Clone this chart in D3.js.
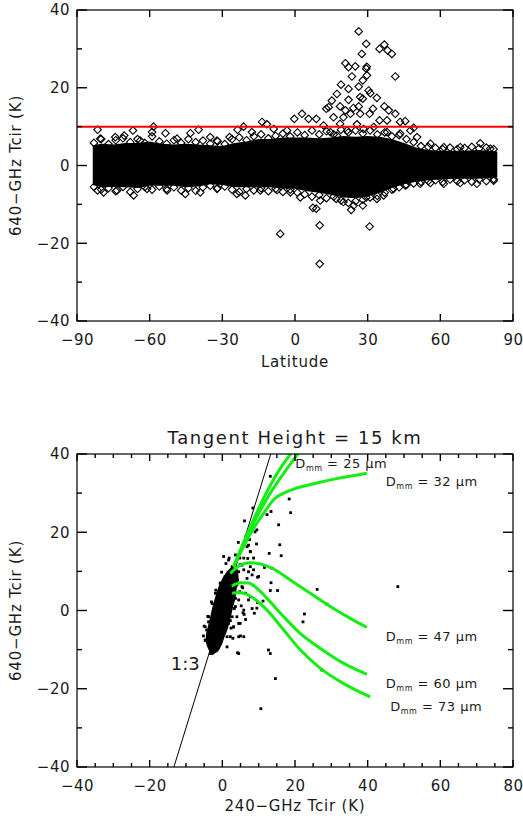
<!DOCTYPE html>
<html lang="en">
<head>
<meta charset="UTF-8">
<title>640-GHz vs 240-GHz Tcir</title>
<style>
  body { margin: 0; background: #fff; }
  svg text { font-family: "DejaVu Sans", sans-serif; fill: #1a1a1a; }
  .tick text { font-size: 15px; letter-spacing: 0.5px; }
</style>
</head>
<body>
<svg id="chart" width="523" height="819"></svg>
<script src="https://cdn.jsdelivr.net/npm/d3@7"></script>
<script>
// ---------- top panel data ----------
var latTicks = [-90, -60, -30, 0, 30, 60, 90];
var tcirTicks = [-40, -20, 0, 20, 40];
var tcirMinor = [-30, -10, 10, 30];
var threshold = 10;

// envelope of the solid black band (latitude, upper, lower)
var bandLat = [-83.5, -80, -75, -70, -65, -60, -55, -50, -45, -40, -35, -30, -25, -20, -15, -10, -5, 0, 5, 10, 15, 20, 25, 30, 35, 40, 45, 50, 55, 60, 65, 70, 75, 80, 83.5];
var bandTop = [5.2, 5.6, 5.4, 5.8, 5.8, 6.2, 5.6, 5.4, 5.6, 5.4, 5.2, 5.0, 5.8, 6.2, 6.8, 6.8, 7.2, 7.2, 7.2, 7.0, 7.2, 7.6, 7.4, 7.6, 7.4, 6.8, 5.8, 4.6, 4.0, 3.8, 3.8, 3.8, 4.0, 3.8, 3.6];
var bandBottom = [-5.0, -5.6, -5.5, -5.6, -5.8, -5.2, -5.2, -5.2, -5.6, -5.4, -4.8, -5.0, -5.6, -5.6, -5.6, -5.6, -6.0, -6.0, -6.6, -7.0, -7.6, -8.2, -8.4, -8.0, -7.0, -5.8, -4.8, -4.2, -3.8, -3.6, -3.4, -3.4, -3.4, -3.2, -3.0];

// diamonds along the ragged edges of the band
var edgeLat = [-83, -80, -77, -74, -71, -68, -65, -62, -59, -56, -53, -50, -47, -44, -41, -38, -35, -32, -29, -26, -23, -20, -17, -14, -11, -8, -5, -2, 1, 4, 7, 10, 13, 16, 19, 22, 25, 28, 31, 34, 37, 40, 43, 46, 49, 52, 55, 58, 61, 64, 67, 70, 73, 76, 79, 82];
var edgeUpper = [5.8, 6.8, 5.5, 6.5, 7.0, 6.0, 6.8, 5.8, 7.5, 6.2, 5.6, 6.5, 5.8, 6.8, 6.0, 6.4, 5.6, 6.2, 5.5, 6.8, 7.2, 6.5, 7.5, 8.0, 7.0, 7.6, 8.2, 7.5, 8.5, 7.8, 9.0, 8.0, 8.8, 8.0, 9.2, 8.5, 9.0, 8.2, 9.0, 8.0, 8.5, 7.5, 7.8, 6.8, 6.0, 5.0, 4.8, 4.5, 4.2, 4.6, 4.2, 4.5, 4.8, 4.4, 4.6, 4.2];
var edgeLower = [-5.5, -6.2, -5.8, -6.6, -5.5, -6.8, -6.0, -5.5, -6.2, -5.4, -6.0, -5.6, -6.4, -5.8, -6.5, -5.6, -5.2, -5.8, -5.4, -6.2, -6.8, -6.0, -6.4, -5.8, -6.6, -6.0, -6.8, -6.2, -7.0, -7.4, -8.0, -7.6, -8.4, -8.0, -9.0, -9.6, -9.2, -8.8, -8.2, -7.8, -7.0, -6.2, -5.6, -5.0, -4.6, -4.2, -4.0, -3.8, -4.2, -3.6, -4.0, -3.8, -4.2, -3.6, -4.0, -3.5];

// individual diamonds outside the band
var diamondLat = [
  -81.5, -80.4, -74.2, -70.5, -66.9, -63.9, -58.4, -59, -53.5, -48.7, -43.2, -39.8, -35, -32.2, -27, -23.7, -21.2, -17.8, -13.6, -11.6, -8.8, -3.3, -0.3, 2.9, 5.6, 8.8, 11.8, 15.9, 18.6, 34.9, 43.4, 45.5, 49, 50.4, 55.9, 61.4, 68.2, 76.5, 80.6,
  -81.5, -79, -73.5, -66.6, -61.1, -52.8, -45.3, -39.1, -32.2, -24, -20.5, -14.3, -7.4, -1.9, 2.2, 10.4, 17, 20, 24.2, 29.4, 33.8, 36.6, 40.7, 45.5, 51.7, 55.9, 61.4, 68.2, 75.1, 82,
  -6.1, 10.2, 10.2, 30.8, 7.4, 8.8, 23.2, 28,
  26.3, 29.4, 27.6, 34.9, 36.9, 38.2, 40, 41.4, 20.8, 22.1, 24.9, 29.4, 29.6, 23.5, 28, 29.7, 26.3, 19, 22.1, 17.3, 30.4, 31.1, 22.1, 26.9, 28, 33.8, 15.2, 13.9, 12.9, 18.6, 24.1, 32.2, 36.9, 38.7, 26.3, 22.9, 30.8, 41.4, 20.8,
  14.6, 17.3, 21.5, 25.6, 28.3, 32.5, 38, 43.4, 47.6, 20, 26.9, 38, 40
];
var diamondVal = [
  9.2, 6.9, 7.3, 7.7, 9.0, 6.4, 10.0, 8.6, 8.3, 6.9, 8.3, 9.2, 7.3, 6.4, 7.3, 9.2, 10.0, 8.6, 11.2, 10.6, 9.4, 9.0, 12.0, 13.3, 12.0, 12.0, 10.3, 12.4, 10.7, 11.6, 11.2, 11.4, 9.7, 7.3, 5.6, 4.7, 4.7, 5.7, 4.3,
  -6.4, -6.9, -6.4, -7.7, -6.0, -6.4, -7.3, -6.9, -6.0, -7.3, -7.7, -6.4, -6.3, -6.9, -8.2, -9.0, -8.6, -9.4, -10.3, -8.2, -8.6, -7.7, -6.0, -5.1, -4.7, -4.5, -4.7, -4.5, -4.7, -3.9,
  -17.6, -15.4, -25.3, -15.7, -10.9, -11.1, -11.4, -10.3,
  34.5, 31.3, 28.7, 30.0, 31.1, 29.6, 28.7, 22.9, 26.3, 25.3, 25.5, 24.9, 25.4, 22.9, 21.9, 23.2, 20.3, 20.8, 19.7, 18.4, 19.3, 18.6, 16.9, 17.6, 17.2, 17.4, 16.7, 15.0, 14.6, 15.2, 14.8, 14.6, 15.2, 14.2, 15.2, 13.3, 13.3, 13.3, 14.2,
  8.6, 7.7, 9.0, 10.6, 9.4, 9.9, 8.6, 8.2, 9.0, 12.4, 13.3, 11.6, 3.9
];

// ---------- bottom panel data ----------
var t240Ticks = [-40, -20, 0, 20, 40, 60, 80];
var t240Minor = [-35, -30, -25, -15, -10, -5, 5, 10, 15, 25, 30, 35, 45, 50, 55, 65, 70, 75];
var ratioSlope = 3;

// outline of the dense cluster near the origin
var clusterX = [4.3, 4.5, 4.0, 3.6, 3.0, 2.5, 2.0, 1.4, 0.6, 0.0, -0.6, -1.2, -2.4, -3.4, -4.2, -4.6, -4.5, -4.2, -3.7, -3.2, -2.7, -2.1, -1.5, -0.9, 0.0, 1.2, 2.6];
var clusterY = [10.5, 8.2, 6.0, 3.0, 1.0, -1.0, -3.0, -5.0, -6.8, -8.5, -9.6, -10.5, -11.2, -10.8, -9.2, -8.0, -6.0, -5.0, -3.0, -1.0, 1.0, 3.0, 4.8, 6.5, 8.2, 10.0, 11.2];

var dotX = [13.2, 18.4, 18.8, 13.4, 12.3, 8.4, 6.1, 9.5, 9.0, 15.5, 15.8, 16.2, 12.9, 4.4, 7.5, 7.2, 9.4, 7.7, 6.5, 7.0, 11.6, 10.0, 13.4,
  9.7, 13.7, 13.2, 15.2, 26.1, 28.8, 22.6, 22.2, 48.3, 11.2, 9.7, 8.2, 8.8, 5.7, 6.4, 4.5, 5.0, 3.1, 2.9, 4.2, 12.7, 13.2, 14.6, 27.4, 10.6,
  7.7, 5.9, 8.2, 6.8, 4.8, 6.3, 3.6, 7.2, 9.5, 3.6, 2.7, 1.7, 1.3, -0.1, -2.4, -2.8, -4.7, -3.8, 1.9, 4.5, 0.8, 1.6, 3.6, 4.8, 5.4, 4.0,
  -4.3, -3.2, 2.2, 3.3, 5.6, 6.0, 2.9, -1.2,
  6.8, 7.7, 5.9, 8.6, 4.9, 7.2, 8.6, 5.4, 6.3, 7.7, 4.5, 5.9, 4.0, 4.9, 3.1, 4.5, 5.9, 2.2, 1.3, -1.9, -3.3, -4.7, -4.7, -3.8, -2.8, -1.9, -0.6, 0.8, 1.7, 2.7, 3.6, 0.35, 4.5,
  -5.2, -5.0, -4.0, -3.0, -1.8, 5.2, 4.2, 2.4, 1.0, -0.2];
var dotY = [34.3, 28.5, 25.0, 25.3, 24.5, 26.2, 22.9, 20.6, 20.1, 21.9, 16.8, 14.0, 14.6, 17.4, 18.1, 16.7, 17.0, 15.0, 18.9, 13.3, 11.0, 8.7, 7.1,
  8.5, 10.8, 5.1, 5.1, 5.4, 1.6, -0.9, -2.9, 6.1, 2.4, 2.0, 0.5, -0.7, -0.6, -2.3, -3.3, -6.5, -4.2, -7.1, -10.8, -10.1, -11.0, -17.4, -15.2, -25.1,
  11.2, 10.4, 9.1, 8.2, 4.8, 4.4, 3.1, 2.7, 0.6, 1.0, -1.6, -3.3, -6.7, -5.9, -10.1, -11.0, -7.6, -2.9, 13.4, 9.9, 8.7, 7.0, 12.1, 13.4, 11.6, 6.5,
  -5.0, -8.8, -2.6, 0.5, 5.8, -1.0, 9.6, -9.6,
  16.3, 15.1, 13.4, 13.4, 11.7, 9.9, 10.4, 6.1, 4.4, 3.5, 2.7, 0.1, -1.6, -3.3, -4.2, -6.7, -6.7, -6.7, -9.3, -10.1, -11.0, -7.6, -4.2, -1.6, 1.8, 4.4, 7.0, 8.7, 12.9, 11.2, 14.2, 13.8, -11.0,
  -6.5, -4.0, -1.5, 2.2, 5.2, 1.2, 7.8, -4.5, 12.0, 9.8];

// model curves for particle size Dmm (x = 240-GHz Tcir, y = 640-GHz Tcir)
var curveD18 = [[3.1, 11.2], [5.4, 16.4], [8.6, 23.2], [12.3, 30.4], [16.0, 36.4], [19.2, 40.5]];
var curveD25 = [[3.1, 11.2], [5.9, 17.2], [9.5, 24.0], [13.2, 30.0], [16.9, 35.1], [21.2, 40.5]];
var curveD32 = [[3.1, 11.2], [5.9, 16.4], [8.6, 21.0], [11.4, 24.9], [14.1, 28.3], [17.8, 30.4], [20.5, 31.3], [26.0, 32.6], [32.5, 33.9], [39.8, 35.1]];
var curveD47 = [[2.2, 9.5], [5.0, 11.6], [7.7, 12.2], [10.5, 11.9], [14.1, 10.6], [18.7, 7.8], [24.2, 4.4], [30.6, 0.5], [35.2, -2.0], [39.8, -4.3]];
var curveD60 = [[2.6, 6.2], [4.95, 7.1], [7.2, 7.0], [9.5, 5.7], [12.3, 3.1], [16.9, -1.6], [21.5, -5.9], [27.0, -9.7], [33.4, -13.5], [39.8, -16.3]];
var curveD73 = [[2.7, 4.4], [4.5, 4.6], [6.8, 4.1], [9.5, 2.5], [12.3, 0.1], [16.9, -5.0], [21.5, -10.1], [27.0, -14.8], [33.4, -18.7], [40.7, -22.1]];

var dmmNames = ["25", "32", "47", "60", "73"];
var dmmLabelX = [20.1, 45.0, 45.0, 45.0, 46.2];
var dmmLabelY = [36.5, 31.7, -7.7, -19.7, -25.7];

// ---------- drawing ----------
var svg = d3.select("#chart");
var boxLeft = 77, boxRight = 513;

function diamond(r) {
  return "M0," + (-r) + "L" + r + ",0L0," + r + "L" + (-r) + ",0Z";
}

var fmt = function(d) { return d < 0 ? "\u2212" + Math.abs(d) : String(d); };

// frame + tick labels (left and bottom)
function drawFrame(g, x, y, xTicks, yTicks, yTop, yBottom) {
  g.append("g").attr("transform", "translate(0," + yBottom + ")")
    .call(d3.axisBottom(x).tickValues(xTicks).tickSize(0).tickPadding(13).tickFormat(fmt))
    .call(function(s) { s.select(".domain").remove(); });
  g.append("g").attr("transform", "translate(" + boxLeft + ",0)")
    .call(d3.axisLeft(y).tickValues(yTicks).tickSize(0).tickPadding(7).tickFormat(fmt))
    .call(function(s) { s.select(".domain").remove(); });
  g.append("rect")
    .attr("x", boxLeft).attr("y", yTop)
    .attr("width", boxRight - boxLeft).attr("height", yBottom - yTop)
    .attr("fill", "none").attr("stroke", "#000").attr("stroke-width", 1.2);
}

// ===== top panel: Tcir vs latitude =====
var top1 = 10, bottom1 = 321;
var x1 = d3.scaleLinear().domain([-90, 90]).range([boxLeft, boxRight]);
var y1 = d3.scaleLinear().domain([-40, 40]).range([bottom1, top1]);
var g1 = svg.append("g");

var band = bandLat.map(function(d, i) { return { lat: d, hi: bandTop[i], lo: bandBottom[i] }; });
g1.append("path")
  .datum(band)
  .attr("fill", "#000")
  .attr("d", d3.area()
    .x(function(d) { return x1(d.lat); })
    .y0(function(d) { return y1(d.lo); })
    .y1(function(d) { return y1(d.hi); }));

var pts = [];
edgeLat.forEach(function(d, i) { pts.push([d, edgeUpper[i]]); pts.push([d, edgeLower[i]]); });
diamondLat.forEach(function(d, i) { pts.push([d, diamondVal[i]]); });

g1.selectAll(".dia")
  .data(pts)
  .enter().append("path")
  .attr("class", "dia")
  .attr("d", diamond(3.8))
  .attr("transform", function(d) { return "translate(" + x1(d[0]) + "," + y1(d[1]) + ")"; })
  .attr("fill", "none")
  .attr("stroke", "#000")
  .attr("stroke-width", 1.1);

g1.append("line")
  .attr("x1", x1(-90)).attr("x2", x1(90))
  .attr("y1", y1(threshold)).attr("y2", y1(threshold))
  .attr("stroke", "#ff0000").attr("stroke-width", 2);

drawFrame(g1, x1, y1, latTicks, tcirTicks, top1, bottom1);

g1.append("text")
  .attr("x", (boxLeft + boxRight) / 2).attr("y", 367)
  .attr("text-anchor", "middle").style("font-size", "15px").style("letter-spacing", "0.8px")
  .text("Latitude");
g1.append("text")
  .attr("transform", "translate(21," + (top1 + bottom1) / 2 + ") rotate(-90)")
  .attr("text-anchor", "middle").style("font-size", "15px").style("letter-spacing", "0.8px")
  .text("640\u2212GHz  Tcir  (K)");

// ===== bottom panel: 640 vs 240 GHz =====
var top2 = 454, bottom2 = 767;
var x2 = d3.scaleLinear().domain([-40, 80]).range([boxLeft, boxRight]);
var y2 = d3.scaleLinear().domain([-40, 40]).range([bottom2, top2]);
var g2 = svg.append("g");

svg.append("clipPath").attr("id", "clip2")
  .append("rect").attr("x", boxLeft).attr("y", top2)
  .attr("width", boxRight - boxLeft).attr("height", bottom2 - top2);

g2.append("path")
  .datum(clusterX.map(function(d, i) { return [d, clusterY[i]]; }))
  .attr("fill", "#000")
  .attr("d", d3.line()
    .x(function(d) { return x2(d[0]); })
    .y(function(d) { return y2(d[1]); })
    .curve(d3.curveLinearClosed));

g2.selectAll(".dot")
  .data(dotX.map(function(d, i) { return [d, dotY[i]]; }))
  .enter().append("rect")
  .attr("class", "dot")
  .attr("x", function(d) { return x2(d[0]) - 1.4; })
  .attr("y", function(d) { return y2(d[1]) - 1.4; })
  .attr("width", 2.8).attr("height", 2.8)
  .attr("fill", "#000");

// 1:3 reference line
g2.append("line")
  .attr("clip-path", "url(#clip2)")
  .attr("x1", x2(-40 / ratioSlope)).attr("y1", y2(-40))
  .attr("x2", x2(40 / ratioSlope)).attr("y2", y2(40))
  .attr("stroke", "#000").attr("stroke-width", 1);

var curveLine = d3.line()
  .x(function(d) { return x2(d[0]); })
  .y(function(d) { return y2(d[1]); })
  .curve(d3.curveMonotoneX);

g2.selectAll(".model")
  .data([curveD18, curveD25, curveD32, curveD47, curveD60, curveD73])
  .enter().append("path")
  .attr("class", "model")
  .attr("clip-path", "url(#clip2)")
  .attr("d", curveLine)
  .attr("fill", "none")
  .attr("stroke", "#14ee14")
  .attr("stroke-width", 3);

drawFrame(g2, x2, y2, t240Ticks, tcirTicks, top2, bottom2);

var lab = g2.selectAll(".dmm")
  .data(dmmNames)
  .enter().append("text")
  .attr("class", "dmm")
  .attr("x", function(d, i) { return x2(dmmLabelX[i]); })
  .attr("y", function(d, i) { return y2(dmmLabelY[i]); })
  .style("font-size", "13px")
  .style("letter-spacing", "0.5px");
lab.append("tspan").text("D");
lab.append("tspan").attr("dy", 3).style("font-size", "8px").text("mm");
lab.append("tspan").attr("dy", -3).text(function(d) { return "  =  " + d + "  \u03bcm"; });

g2.append("text")
  .attr("x", x2(-10.2)).attr("y", y2(-15.2))
  .attr("text-anchor", "middle").style("font-size", "18px")
  .text("1:3");

g2.append("text")
  .attr("x", (boxLeft + boxRight) / 2).attr("y", 444)
  .attr("text-anchor", "middle").style("font-size", "18px").style("letter-spacing", "1.6px")
  .text("Tangent Height = 15 km");
g2.append("text")
  .attr("x", (boxLeft + boxRight) / 2).attr("y", 811)
  .attr("text-anchor", "middle").style("font-size", "15px").style("letter-spacing", "0.8px")
  .text("240\u2212GHz  Tcir  (K)");
g2.append("text")
  .attr("transform", "translate(21," + (top2 + bottom2) / 2 + ") rotate(-90)")
  .attr("text-anchor", "middle").style("font-size", "15px").style("letter-spacing", "0.8px")
  .text("640\u2212GHz  Tcir  (K)");

// ===== inward tick marks, drawn last on the svg itself =====
function yTickMarks(scale, values, len) {
  svg.selectAll(null).data(values).enter().append("rect")
    .attr("x", boxLeft).attr("y", function(d) { return scale(d) - 0.7; })
    .attr("width", len).attr("height", 1.4).attr("fill", "#000");
  svg.selectAll(null).data(values).enter().append("rect")
    .attr("x", boxRight - len).attr("y", function(d) { return scale(d) - 0.7; })
    .attr("width", len).attr("height", 1.4).attr("fill", "#000");
}
function xTickMarks(scale, values, len, yTop, yBottom) {
  svg.selectAll(null).data(values).enter().append("rect")
    .attr("x", function(d) { return scale(d) - 0.7; }).attr("y", yBottom - len)
    .attr("width", 1.4).attr("height", len).attr("fill", "#000");
  svg.selectAll(null).data(values).enter().append("rect")
    .attr("x", function(d) { return scale(d) - 0.7; }).attr("y", yTop)
    .attr("width", 1.4).attr("height", len).attr("fill", "#000");
}
yTickMarks(y1, tcirTicks, 10);
yTickMarks(y1, tcirMinor, 5);
xTickMarks(x1, latTicks, 7, top1, bottom1);
yTickMarks(y2, tcirTicks, 10);
yTickMarks(y2, tcirMinor, 5);
xTickMarks(x2, t240Ticks, 7, top2, bottom2);
xTickMarks(x2, t240Minor, 4, top2, bottom2);
</script>
</body>
</html>
